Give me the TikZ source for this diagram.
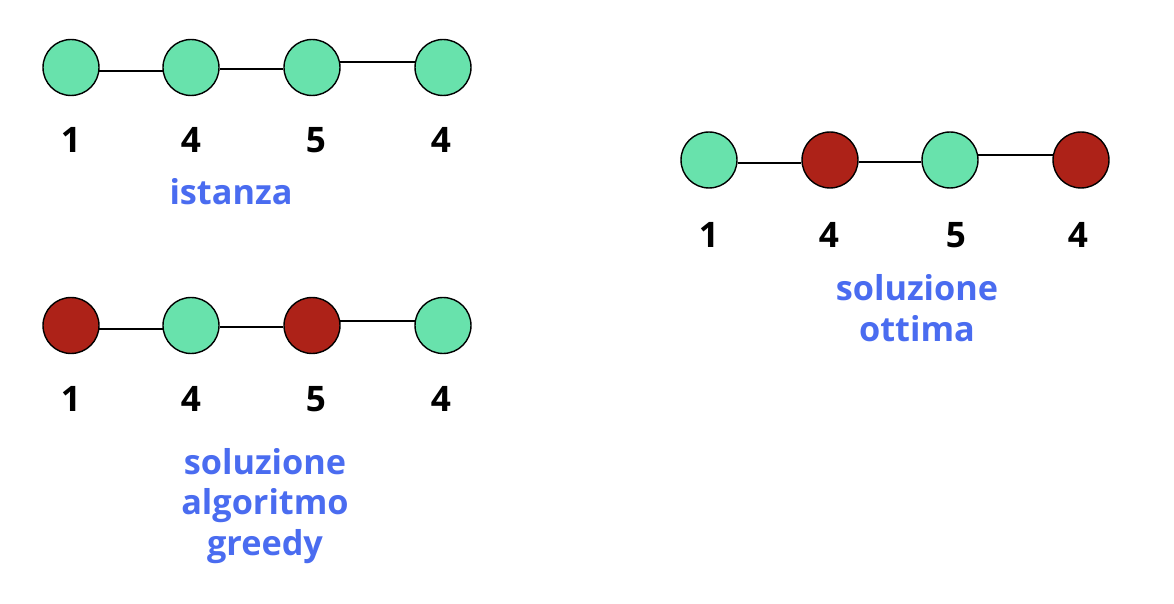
\documentclass[tikz,border=0pt]{standalone}
\usepackage{fontspec}
\setmainfont{Open Sans}
\usepackage{tikz}

\definecolor{vgreen}{RGB}{104,226,172}
\definecolor{vred}{RGB}{173,34,24}
\definecolor{vblue}{RGB}{74,108,240}

\tikzset{
  vert/.style={circle, draw, line width=0.8pt, minimum size=1.12cm, inner sep=0pt},
  free/.style={vert, fill=vgreen},
  taken/.style={vert, fill=vred},
  weight/.style={font=\fontsize{20}{22}\selectfont\bfseries},
  caption/.style={text=vblue, align=center, font=\fontsize{19.5}{23}\selectfont\bfseries}
}

\begin{document}
\begin{tikzpicture}[x=0.02cm, y=-0.02cm]
        \useasboundingbox (0, 0) rectangle (1174, 604);

        % istanza
        \node [free] (i1) at (71, 67.5) {};
        \node [free] (i2) at (191, 67.5) {};
        \node [free] (i3) at (312, 67.5) {};
        \node [free] (i4) at (443, 67.5) {};
        \draw [line width=0.8pt] (i1.-7) -- (i2.187);
        \draw [line width=0.8pt] (i2.-3) -- (i3.183);
        \draw [line width=0.8pt] (i3.11) -- (i4.169);
        \node [weight] (wi1) at (71, 140) {1};
        \node [weight] (wi2) at (191, 140) {4};
        \node [weight] (wi3) at (316, 140) {5};
        \node [weight] (wi4) at (441, 140) {4};
        \node [caption] (ci) at (231, 192) {istanza};

        % soluzione algoritmo greedy
        \node [taken] (g1) at (71, 325.5) {};
        \node [free] (g2) at (191, 325.5) {};
        \node [taken] (g3) at (312, 325.5) {};
        \node [free] (g4) at (443, 325.5) {};
        \draw [line width=0.8pt] (g1.-7) -- (g2.187);
        \draw [line width=0.8pt] (g2.-3) -- (g3.183);
        \draw [line width=0.8pt] (g3.9) -- (g4.171);
        \node [weight] (wg1) at (71, 399) {1};
        \node [weight] (wg2) at (191, 399) {4};
        \node [weight] (wg3) at (316, 399) {5};
        \node [weight] (wg4) at (441, 399) {4};
        \node [caption] (cg) at (265, 506) {soluzione\\algoritmo\\greedy};

        % soluzione ottima
        \node [free] (o1) at (709, 160) {};
        \node [taken] (o2) at (830, 160) {};
        \node [free] (o3) at (950, 160) {};
        \node [taken] (o4) at (1081, 160) {};
        \draw [line width=0.8pt] (o1.-6) -- (o2.186);
        \draw [line width=0.8pt] (o2.-4) -- (o3.184);
        \draw [line width=0.8pt] (o3.10) -- (o4.170);
        \node [weight] (wo1) at (709, 235) {1};
        \node [weight] (wo2) at (829, 235) {4};
        \node [weight] (wo3) at (956, 235) {5};
        \node [weight] (wo4) at (1078, 235) {4};
        \node [caption] (co) at (917, 308) {soluzione\\ottima};
\end{tikzpicture}
\end{document}
